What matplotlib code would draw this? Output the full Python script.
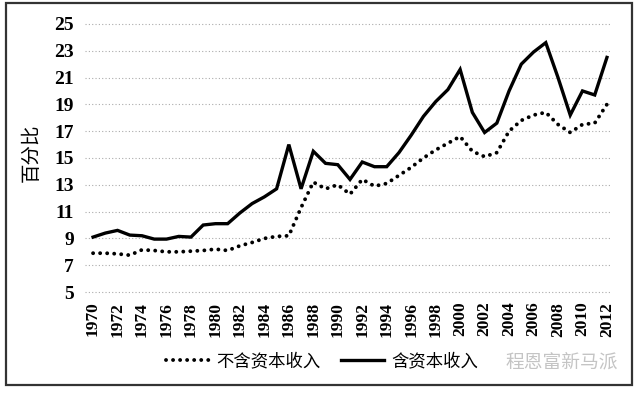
import matplotlib
matplotlib.use("Agg")
from matplotlib import pyplot as plt
from matplotlib.patches import Rectangle

# Data
years = list(range(1970, 2013))
with_capital = [9.1, 9.4, 9.6, 9.25, 9.2, 8.95, 8.95, 9.15, 9.1, 10.0,
                10.1, 10.1, 10.9, 11.6, 12.1, 12.7, 16.0, 12.7, 15.5, 14.6,
                14.5, 13.4, 14.7, 14.35, 14.35, 15.4, 16.7, 18.1, 19.2, 20.1,
                21.6, 18.4, 16.9, 17.6, 20.0, 22.0, 22.9, 23.6, 21.0, 18.2,
                20.0, 19.7, 22.5]
without_capital = [7.9, 7.9, 7.85, 7.75, 8.15, 8.1, 8.0, 8.0, 8.05, 8.1,
                   8.2, 8.1, 8.45, 8.7, 9.0, 9.15, 9.2, 11.3, 13.2, 12.7,
                   13.0, 12.3, 13.4, 12.9, 13.1, 13.7, 14.3, 15.0, 15.6, 16.1,
                   16.6, 15.5, 15.1, 15.4, 17.0, 17.8, 18.2, 18.4, 17.5, 16.9,
                   17.5, 17.6, 19.0]
y_ticks = list(range(5, 26, 2))
x_ticks = list(range(1970, 2013, 2))

plt.rcParams['font.family'] = ['Noto Sans CJK SC', 'DejaVu Sans']

fig = plt.figure(figsize=(6.4, 3.93), dpi=100)
ax = fig.add_axes([0.133, 0.25, 0.823, 0.696])

# Dotted gridlines
for t in y_ticks:
    ax.axhline(t, color='#ababab', linewidth=0.8, linestyle=(0, (1, 2)), zorder=0)

ax.plot(years, without_capital, color='black', linewidth=2.8,
        linestyle=(0, (0.01, 1.8)), dash_capstyle='round', label='不含资本收入')
ax.plot(years, with_capital, color='black', linewidth=2.4,
        solid_joinstyle='miter', label='含资本收入')

ax.set_xlim(1969.35, 2012.4)
ax.set_ylim(4.8, 25.2)
ax.set_yticks(y_ticks)
ax.set_xticks(x_ticks)
ax.set_yticklabels([str(t) for t in y_ticks], family='Liberation Serif',
                   fontsize=14, fontweight='bold')
ax.set_xticklabels([str(t) for t in x_ticks], family='Liberation Serif',
                   fontsize=12.5, fontweight='bold', rotation=90)
ax.tick_params(axis='both', length=0)
ax.tick_params(axis='y', pad=8)
ax.tick_params(axis='x', pad=5)
for s in ax.spines.values():
    s.set_visible(False)

ax.set_ylabel('百分比', fontsize=14, labelpad=5)
ax.yaxis.set_label_coords(-0.083, 0.52)

fig.legend(loc='center', bbox_to_anchor=(0.503, 0.08), ncol=2, frameon=False,
           fontsize=12.5, handlelength=2.5, handletextpad=0.4, columnspacing=1.2)

# Watermark
fig.text(0.79, 0.08, '程恩富新马派', fontsize=13.5, color='#c4c4c4', va='center')

# Outer frame
fig.patches.append(Rectangle((0.009, 0.02), 0.978, 0.972, transform=fig.transFigure,
                             fill=False, edgecolor='#333333', linewidth=1.6))

fig.savefig('out.png', dpi=100)
